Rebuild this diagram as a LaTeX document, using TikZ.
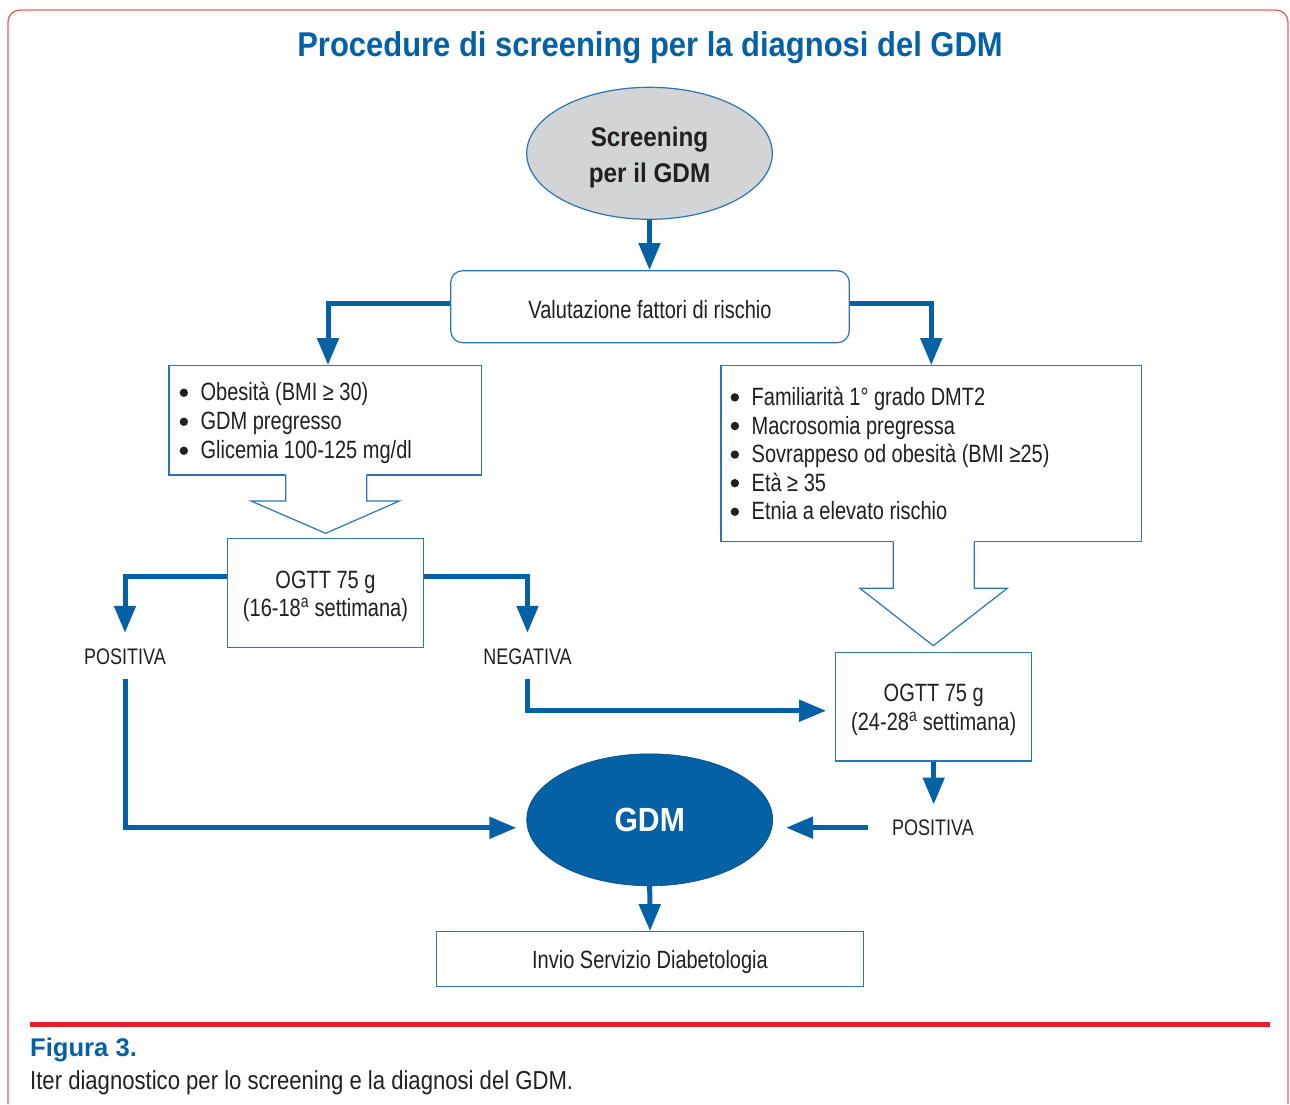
\documentclass[tikz,border=0pt]{standalone}
\usepackage{fontspec}
\setmainfont{Liberation Sans}[FakeStretch=0.8, BoldFeatures={FakeStretch=0.9}]
\newfontfamily\capreg{Liberation Sans}[FakeStretch=0.85]
\newfontfamily\capbold{Liberation Sans Bold}
\usetikzlibrary{arrows.meta,shapes.geometric,calc}
\definecolor{gblue}{HTML}{0561A6}
\definecolor{bborder}{HTML}{2A74B7}
\definecolor{tdark}{HTML}{231F20}
\definecolor{fred}{HTML}{EF5B64}
\definecolor{lred}{HTML}{EC1C24}
\definecolor{sgray}{HTML}{D3D4D6}
\newcommand{\bul}{\makebox[21pt][l]{\raisebox{4pt}{\tikz\fill[tdark] (0,0) circle (4.2pt);}}}
\newcommand{\tallstrut}{\rule{0pt}{24.5pt}}
\begin{document}
\begin{tikzpicture}[x=1pt,y=-1pt,
  box/.style={draw=bborder, line width=1.2pt, fill=white, inner sep=0pt, text=tdark, font=\fontsize{25}{29}\selectfont},
  conn/.style={draw=gblue, line width=5pt, -{Triangle[length=27pt,width=21pt]}},
  lbl/.style={inner xsep=2pt, inner ysep=14.9pt, text height=16.1pt, text depth=0pt, text=tdark, font=\fontsize{22.5}{27}\selectfont, anchor=base},
  blockarrow/.style={draw=bborder, line width=1.2pt, line join=miter}
]
\useasboundingbox (0,0) rectangle (1290,1104);
% frame
\draw[fred, line width=1.3pt, rounded corners=12pt] (8,1104) -- (8,10) -- (1288,10) -- (1288,1104);
% title
\node[anchor=base, inner sep=0pt, text=gblue, font=\bfseries\fontsize{34.4}{40}\selectfont] (title) at (650,56) {Procedure di screening per la diagnosi del GDM};
% screening ellipse
\node[ellipse, draw=bborder, line width=1.2pt, fill=sgray, minimum width=245.6pt, minimum height=132pt, inner sep=0pt, align=center, text=tdark, font=\bfseries\fontsize{27}{36}\selectfont] (scr) at (649.5,153.3) {\rule{0pt}{27.3pt}Screening\\per il GDM};
% valutazione
\node[box, rounded corners=12pt, minimum width=398.6pt, minimum height=72pt, text height=24pt, text depth=0pt] (val) at (650,306.7) {Valutazione fattori di rischio};
% left list
\node[box, minimum width=312.7pt, minimum height=109.3pt, text width=291.3pt, inner xsep=10.7pt, align=flush left] (lbox) at (325.3,420.3)
 {\tallstrut\bul Obesità (BMI ≥ 30)\\\bul GDM pregresso\\\bul Glicemia 100-125 mg/dl};
% right list
\node[box, minimum width=420.7pt, minimum height=176pt, text width=401.3pt, inner xsep=9.7pt, align=flush left, font=\fontsize{25}{28.6}\selectfont] (rbox) at (931.3,453.7)
 {\bul Familiarità 1° grado DMT2\\\bul Macrosomia pregressa\\\bul Sovrappeso od obesità (BMI ≥25)\\\bul Età ≥ 35\\\bul Etnia a elevato rischio};
% OGTT boxes
\node[box, minimum width=195.6pt, minimum height=109pt, align=center, font=\fontsize{25}{28}\selectfont] (og1) at (325.5,592.8) {\tallstrut OGTT 75 g\\(16-18\textsuperscript{a} settimana)};
\node[box, minimum width=196pt, minimum height=108.7pt, align=center, font=\fontsize{25}{29}\selectfont] (og2) at (933.7,706.7) {\tallstrut OGTT 75 g\\(24-28\textsuperscript{a} settimana)};
% block arrows
\fill[white] (285.7,473.5) -- (285.7,501) -- (251,501) -- (325.7,533.3) -- (399.3,501) -- (366.7,501) -- (366.7,473.5) -- cycle;
\draw[blockarrow] (285.7,475) -- (285.7,501) -- (251,501) -- (325.7,533.3) -- (399.3,501) -- (366.7,501) -- (366.7,475);
\fill[white] (893.3,540.2) -- (893.3,588.3) -- (860,588.3) -- (933.3,645.7) -- (1007.3,588.3) -- (974.3,588.3) -- (974.3,540.2) -- cycle;
\draw[blockarrow] (893.3,541.7) -- (893.3,588.3) -- (860,588.3) -- (933.3,645.7) -- (1007.3,588.3) -- (974.3,588.3) -- (974.3,541.7);
% labels
\node[lbl] (pos1) at (125,664) {POSITIVA};
\node[lbl] (neg) at (527.5,664) {NEGATIVA};
\node[lbl] (pos2) at (933,835.7) {POSITIVA};
% GDM
\node[ellipse, draw=gblue!75!black, line width=0.6pt, fill=gblue, minimum width=246pt, minimum height=132pt, inner sep=0pt, text=white, font=\bfseries\fontsize{33.5}{40}\selectfont] (gdm) at (649.7,819.8) {GDM};
% invio
\node[box, minimum width=426.6pt, minimum height=55pt, text height=18.3pt, text depth=0pt] (inv) at (650,959.2) {Invio Servizio Diabetologia};
% connectors
\draw[conn] (scr.south) -- (val.north -| scr.south);
\draw[conn] ($(val.west)+(0,-3.4)$) -| ($(lbox.north)+(2.7,0)$);
\draw[conn] ($(val.east)+(0,-3.4)$) -| (rbox.north);
\draw[conn] ($(og1.west)+(0,-16)$) -| (pos1.north);
\draw[conn] ($(og1.east)+(0,-16)$) -| (neg.north);
\draw[conn] (pos1.south) |- ($(gdm.west)+(-10,8)$);
\draw[conn] (neg.south) |- ($(og2.west)+(-9,4)$);
\draw[conn] (og2.south) -- (og2.south |- pos2.north);
\draw[conn] ($(pos2.west)+(-22,0)$) -- ($(pos2.west -| gdm.east)+(13,0)$);
\draw[conn] (gdm.south) -- (inv.north);
% bottom
\draw[lred, line width=5pt] (30,1024) -- (1270,1024);
\node[anchor=base west, inner sep=0pt, text=gblue, font=\capbold\fontsize{25.6}{30}\selectfont] (fig) at (30,1056.7) {Figura 3.};
\node[anchor=base west, inner sep=0pt, text=tdark, font=\capreg\fontsize{26}{30}\selectfont] (cap) at (30,1089) {Iter diagnostico per lo screening e la diagnosi del GDM.};
\end{tikzpicture}
\end{document}
